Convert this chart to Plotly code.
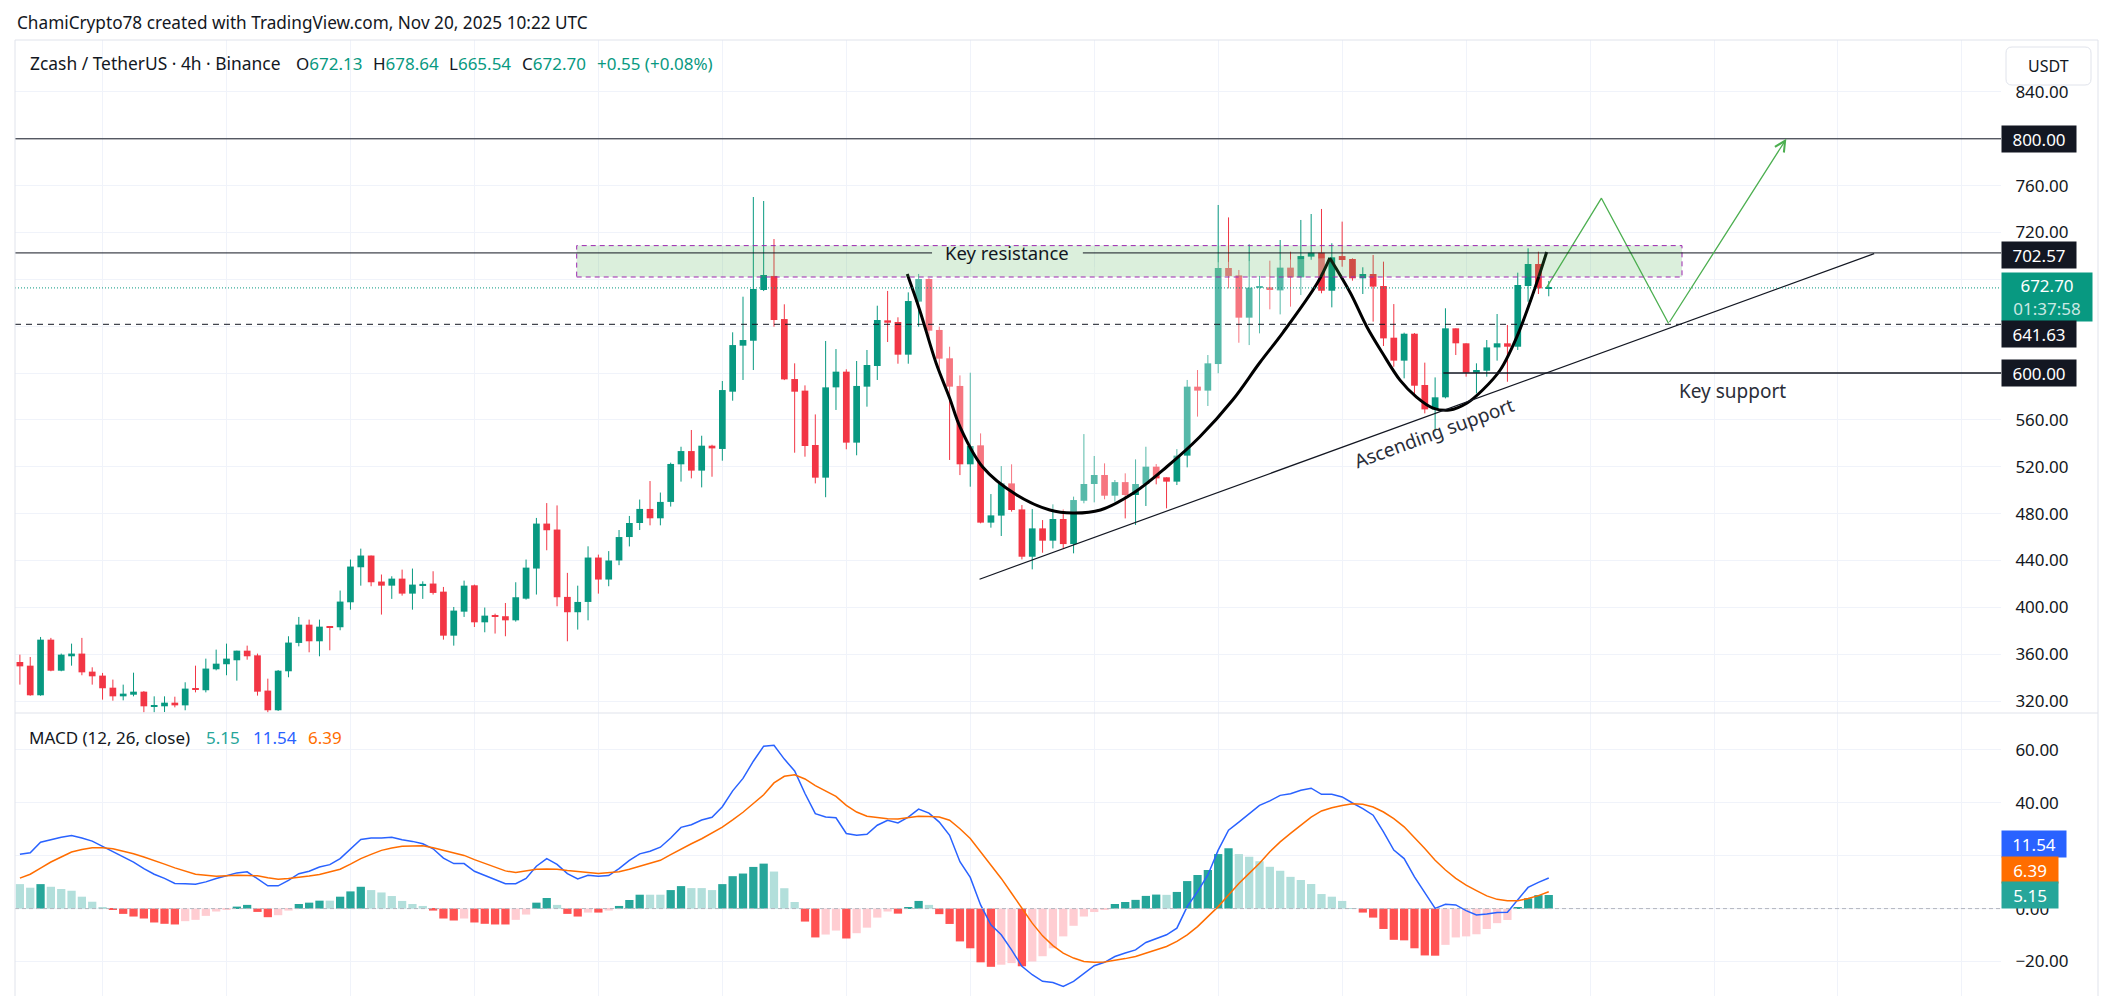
import plotly.graph_objects as go

# ---------------- data ----------------
OPEN = [353.3, 350.2, 324.9, 372.4, 345.9, 358.2, 360.5, 345.1, 341.7, 331.4,
        324.0, 325.4, 328.0, 315.5, 315.5, 318.6, 316.3, 330.6, 329.2, 347.1,
        351.4, 354.8, 363.0, 359.0, 328.9, 312.1, 345.4, 369.6, 385.2, 371.0,
        383.8, 383.0, 404.3, 434.2, 444.2, 422.0, 418.5, 424.5, 411.7, 418.5,
        420.3, 413.4, 375.8, 396.3, 418.8, 387.2, 392.9, 392.4, 388.9, 407.4,
        433.1, 471.5, 466.4, 408.9, 395.8, 404.6, 442.5, 423.7, 440.0, 460.0,
        472.0, 484.0, 476.0, 490.0, 522.1, 533.4, 516.7, 538.0, 535.2, 584.1,
        623.4, 627.6, 670.9, 682.9, 646.1, 594.9, 585.0, 538.6, 510.7, 587.8,
        601.2, 540.6, 588.4, 606.0, 645.0, 643.6, 615.7, 661.0, 680.3, 636.8,
        612.6, 589.0, 522.1, 538.3, 472.3, 478.3, 505.8, 483.6, 443.2, 467.4,
        456.9, 475.4, 454.0, 491.0, 505.3, 513.0, 495.3, 506.9, 495.9, 505.3,
        520.1, 511.0, 507.3, 529.5, 588.4, 585.0, 607.7, 689.7, 683.4, 647.3,
        673.2, 673.2, 670.6, 690.0, 681.7, 699.4, 702.8, 670.3, 699.9, 697.4,
        680.9, 684.6, 674.3, 630.2, 610.6, 633.6, 589.8, 569.0, 579.3, 638.2,
        625.4, 600.3, 602.0, 621.9, 625.4, 622.5, 674.3, 693.1, 672.13]
HIGH = [359.6, 357.6, 374.7, 373.9, 360.5, 369.0, 373.9, 348.8, 344.0, 338.3,
        334.0, 344.2, 328.5, 324.0, 324.0, 323.7, 336.0, 350.2, 356.2, 363.9,
        369.0, 363.0, 367.3, 360.5, 339.1, 346.5, 375.3, 391.8, 389.5, 389.5,
        384.0, 414.3, 440.8, 450.1, 444.2, 428.0, 426.5, 432.2, 433.1, 422.2,
        430.8, 417.4, 400.3, 422.8, 419.4, 399.8, 394.6, 403.7, 421.4, 440.8,
        476.3, 489.0, 487.0, 429.4, 418.5, 452.1, 445.0, 448.0, 466.0, 478.0,
        492.0, 507.8, 498.0, 523.5, 537.1, 551.4, 546.5, 538.8, 593.2, 634.8,
        665.2, 750.3, 746.9, 714.4, 658.7, 608.3, 589.5, 564.7, 627.4, 620.5,
        603.2, 610.3, 619.7, 657.5, 670.1, 647.6, 668.9, 684.6, 681.0, 639.6,
        622.5, 598.0, 600.3, 548.5, 496.7, 520.6, 522.1, 487.3, 483.9, 474.5,
        487.9, 483.6, 494.5, 547.9, 529.2, 522.9, 508.7, 514.4, 526.3, 537.1,
        522.3, 511.0, 535.1, 594.1, 602.6, 615.4, 743.5, 732.9, 688.0, 709.9,
        682.9, 695.9, 713.6, 703.6, 730.7, 735.8, 740.1, 710.8, 729.3, 697.9,
        690.3, 700.8, 695.1, 658.9, 634.5, 634.2, 608.9, 596.3, 655.3, 638.2,
        625.4, 608.3, 628.2, 650.4, 641.0, 685.7, 706.5, 703.6, 678.64]
LOW = [334.0, 324.5, 324.5, 345.4, 345.4, 350.2, 342.0, 334.0, 321.2, 320.3,
       320.6, 324.0, 310.4, 310.4, 310.6, 314.6, 312.1, 327.4, 327.4, 346.2,
       342.0, 337.4, 355.3, 324.6, 310.4, 311.5, 340.3, 366.7, 361.6, 358.2,
       363.3, 380.4, 398.0, 418.5, 418.0, 393.8, 407.2, 410.0, 398.0, 407.2,
       410.9, 372.4, 367.3, 391.8, 383.2, 378.7, 377.6, 375.3, 387.8, 406.6,
       410.9, 448.7, 400.9, 371.0, 381.0, 388.9, 411.7, 418.0, 436.0, 452.0,
       466.0, 470.0, 470.0, 486.0, 507.3, 510.1, 502.4, 511.5, 525.2, 576.4,
       594.1, 602.6, 670.0, 639.6, 594.0, 532.0, 528.6, 505.8, 494.0, 568.5,
       534.9, 529.8, 571.3, 594.1, 626.5, 608.0, 608.0, 639.6, 628.2, 602.6,
       525.8, 512.9, 503.0, 471.7, 468.0, 460.9, 481.7, 440.9, 432.4, 446.6,
       450.3, 450.3, 446.1, 488.8, 489.6, 492.2, 490.2, 475.9, 470.3, 486.5,
       505.0, 484.5, 504.4, 519.5, 562.8, 571.9, 599.8, 672.3, 625.9, 623.9,
       633.9, 654.4, 650.1, 656.7, 666.6, 696.5, 668.1, 656.1, 690.8, 678.9,
       667.5, 643.9, 623.1, 605.4, 595.5, 579.8, 565.6, 550.0, 578.4, 615.4,
       596.9, 582.7, 596.9, 610.6, 592.6, 619.7, 660.9, 667.5, 665.54]
CLOSE = [349.6, 324.9, 372.4, 345.9, 359.6, 360.5, 344.5, 341.1, 330.9, 324.0,
         326.3, 328.0, 315.5, 316.1, 318.6, 316.3, 330.6, 329.7, 347.7, 351.9,
         356.2, 363.0, 358.2, 328.0, 312.1, 345.9, 369.9, 385.2, 371.0, 383.5,
         383.0, 404.9, 434.8, 444.2, 421.4, 418.5, 424.5, 411.7, 419.4, 420.0,
         412.3, 375.8, 397.2, 418.5, 387.2, 392.9, 391.8, 388.9, 408.6, 433.9,
         471.5, 465.8, 408.6, 395.8, 404.6, 442.5, 423.7, 440.0, 460.0, 472.0,
         484.0, 476.0, 490.0, 522.4, 533.4, 516.7, 538.0, 535.7, 585.5, 623.9,
         628.2, 671.8, 683.7, 645.3, 594.6, 584.1, 537.7, 510.7, 587.8, 601.2,
         540.6, 589.0, 606.9, 645.3, 643.0, 615.7, 661.5, 680.3, 636.2, 612.3,
         588.4, 522.1, 537.7, 472.3, 478.5, 505.8, 483.1, 443.2, 467.4, 456.9,
         475.4, 454.0, 491.6, 505.3, 513.0, 495.3, 506.9, 495.9, 505.3, 520.1,
         510.1, 507.3, 529.5, 588.4, 585.0, 608.3, 689.7, 682.9, 647.3, 672.9,
         674.0, 670.9, 690.0, 681.7, 699.9, 702.8, 670.3, 698.8, 696.5, 680.9,
         684.6, 673.8, 629.6, 610.6, 633.6, 589.2, 569.0, 579.3, 638.2, 625.4,
         600.3, 602.6, 621.9, 625.4, 622.5, 675.2, 693.1, 672.3, 672.70]

MACD = [20.5, 21.1, 25.1, 26.0, 27.0, 27.6, 26.7, 25.5, 23.5, 21.4,
        19.5, 17.6, 15.1, 13.0, 11.4, 9.5, 9.4, 9.2, 10.1, 11.4,
        12.4, 13.5, 13.9, 11.4, 8.6, 8.6, 10.7, 13.2, 14.1, 15.7,
        16.6, 18.9, 22.6, 26.1, 26.7, 26.7, 27.0, 26.0, 25.4, 24.5,
        22.6, 19.1, 17.0, 17.0, 14.1, 12.6, 11.0, 9.4, 9.4, 11.4,
        16.0, 18.9, 16.7, 13.2, 11.2, 12.6, 12.2, 12.5, 15.1, 18.2,
        20.7, 21.7, 23.2, 26.7, 30.7, 31.7, 33.5, 34.5, 38.5, 44.5,
        49.2, 55.7, 61.4, 61.7, 56.5, 52.0, 43.5, 35.9, 34.6, 34.3,
        28.4, 27.7, 28.1, 31.5, 33.4, 32.4, 34.6, 37.6, 36.1, 32.7,
        27.7, 17.7, 11.8, 1.4, -6.1, -9.9, -15.6, -21.8, -25.0, -27.5,
        -27.9, -29.4, -27.5, -24.6, -21.6, -20.3, -18.1, -16.8, -15.6, -12.8,
        -11.2, -9.9, -7.4, 0.75, 6.4, 12.7, 22.1, 29.6, 32.7, 35.9,
        39.0, 40.7, 42.8, 43.4, 44.7, 45.5, 43.2, 43.2, 42.2, 39.9,
        37.8, 35.3, 29.0, 22.1, 18.9, 12.0, 5.8, 0.1, 1.6, 1.4,
        -0.75, -2.4, -2.0, -1.5, -1.4, 3.3, 8.0, 9.9, 11.54]
SIGNAL = [11.5, 13.0, 15.3, 17.6, 19.5, 21.4, 22.3, 23.0, 23.0, 22.6,
          21.7, 20.75, 19.5, 18.25, 16.8, 15.4, 14.1, 13.0, 12.6, 12.25,
          12.4, 12.6, 12.5, 12.4, 11.7, 11.1, 11.4, 11.75, 12.3, 12.9,
          13.8, 14.9, 16.8, 18.9, 20.5, 22.0, 22.9, 23.6, 23.7, 23.75,
          23.0, 22.0, 21.0, 20.1, 18.5, 17.0, 15.6, 14.25, 13.6, 14.2,
          14.9, 15.0, 14.9, 14.4, 13.9, 13.6, 13.25, 13.5, 13.9, 14.9,
          16.1, 17.1, 18.25, 20.4, 22.6, 24.5, 26.4, 28.5, 30.75, 33.5,
          36.4, 39.7, 43.0, 47.5, 50.0, 50.6, 49.0, 46.5, 44.3, 42.4,
          39.0, 36.5, 34.9, 34.4, 34.0, 33.9, 34.4, 34.9, 34.8, 34.6,
          33.4, 30.2, 26.5, 21.5, 16.4, 11.4, 5.8, 0.1, -5.5, -10.3,
          -14.0, -16.8, -18.7, -20.0, -20.3, -20.2, -19.6, -18.9, -18.1, -16.8,
          -15.6, -14.3, -12.4, -9.9, -6.8, -3.0, 0.75, 5.1, 9.5, 13.3,
          17.1, 21.5, 25.2, 28.4, 31.5, 34.6, 36.9, 38.1, 39.0, 39.6,
          39.4, 38.4, 36.5, 34.0, 30.9, 26.9, 22.7, 18.3, 14.6, 11.4,
          8.9, 6.8, 4.8, 3.5, 3.0, 3.0, 3.8, 4.9, 6.39]
HIST = [9.25, 7.9, 9.25, 8.25, 7.4, 6.75, 4.5, 2.6, 0.6, -0.3,
        -2.0, -3.0, -3.75, -5.25, -5.75, -6.0, -4.75, -4.25, -2.75, -1.1,
        -0.5, 0.75, 1.4, -1.25, -3.25, -2.5, -0.75, 1.75, 2.25, 3.0,
        3.0, 4.5, 6.5, 8.25, 7.0, 6.1, 4.75, 2.9, 1.75, 1.0,
        -0.75, -3.75, -4.5, -3.75, -5.25, -5.75, -6.0, -6.0, -4.25, -2.25,
        2.25, 4.0, 1.4, -2.0, -3.0, -1.5, -1.5, -0.75, 1.0, 3.25,
        5.25, 5.25, 5.25, 7.0, 8.5, 7.75, 7.75, 7.0, 9.25, 12.25,
        13.25, 15.75, 17.0, 14.0, 7.7, 2.5, -4.9, -10.9, -9.8, -8.3,
        -11.3, -9.3, -7.2, -3.4, -1.1, -1.9, 0.6, 2.9, 1.4, -2.1,
        -5.8, -12.4, -15.0, -20.3, -22.0, -21.2, -20.6, -21.8, -20.0, -18.0,
        -15.0, -10.5, -6.5, -3.0, -1.3, -0.3, 1.75, 2.5, 3.3, 4.8,
        5.3, 5.2, 6.3, 10.4, 12.7, 14.6, 20.6, 22.8, 20.6, 19.6,
        17.9, 15.8, 14.3, 12.0, 10.8, 9.3, 5.5, 4.5, 2.9, 0.2,
        -1.5, -3.4, -7.7, -11.8, -12.0, -15.0, -17.7, -17.8, -13.7, -10.9,
        -10.5, -9.7, -7.7, -5.5, -4.3, 0.3, 3.9, 5.1, 5.15]

PRICE_TICKS = [320, 360, 400, 440, 480, 520, 560, 600, 640, 680, 720, 760, 800, 840]
# tick labels that sit fully under a price-scale badge are left blank
PRICE_TICK_TEXT = ["320.00", "360.00", "400.00", "440.00", "480.00", "520.00", "560.00",
                   "", "", "", "720.00", "760.00", "", "840.00"]
MACD_TICKS = [-20, 0, 20, 40, 60]
MACD_TICK_TEXT = ["\u221220.00", "0.00", "", "40.00", "60.00"]

# levels & drawings (chart units: bar index, price)
LEVEL_TARGET = 800.00
LEVEL_RES = 702.57
LEVEL_MID = 641.63
LEVEL_LAST = 672.70
LEVEL_SUP = 600.00
ZONE = dict(x0=53.9, x1=160.9, y0=682.0, y1=708.8)
RES_GAP = (88.3, 102.9)
SUP_START = 137.8
ARC1_X = [85.9, 87.1, 88.7, 90.0, 91.0, 93.2, 96.5, 99.7, 101.9, 104.6, 107.8, 111.0, 114.2, 117.4, 120.0, 122.3, 125.6, 126.8]
ARC1_Y = [684.6, 653.9, 608.3, 578.7, 554.2, 519.8, 495.9, 483.1, 480.5, 483.1, 497.6, 519.8, 545.4, 577.0, 608.6, 635.0, 676.9, 698.2]
ARC2_X = [126.8, 128.8, 130.4, 131.9, 133.6, 135.2, 136.8, 138.4, 140.1, 141.6, 143.3, 144.9, 146.5, 147.8]
ARC2_Y = [698.2, 668.3, 639.3, 617.1, 594.0, 579.5, 570.1, 568.4, 574.4, 585.5, 602.6, 630.7, 668.3, 703.3]
ASC_X = [92.9, 179.5]
ASC_Y = [424.0, 702.0]
PROJ_X = [147.8, 153.1, 159.6]
PROJ_Y = [673.2, 749.3, 642.3]
ARROW_END = (171.0, 800.0)

# ---------------- layout constants ----------------
W, H = 2114, 996
PANE_L, PANE_R, FRAME_R = 15, 2001, 2098
TOP_Y, SEP_Y = 40, 713
X_RANGE = [-0.474, 191.78]
PRICE_RANGE = [309.78, 884.35]
MACD_RANGE = [-33.03, 73.92]
FONT = "Noto Sans, Open Sans, sans-serif"
TXT = "#131722"
GRID = "#F0F3FA"
UP, DOWN = "#089981", "#F23645"
HDR = 17.3


def px(x):
    return x / W


def py(y):
    return 1 - y / H


n = len(CLOSE)
idx = list(range(n))
is_up = [c >= o for o, c in zip(OPEN, CLOSE)]
body_base = [min(o, c) for o, c in zip(OPEN, CLOSE)]
body_h = [max(abs(c - o), 0.9) for o, c in zip(OPEN, CLOSE)]
body_col = [UP if u else DOWN for u in is_up]

fig = go.Figure()

for flag, col in ((True, UP), (False, DOWN)):
    xs, ys = [], []
    for i in idx:
        if is_up[i] == flag:
            xs += [i, i, None]
            ys += [LOW[i], HIGH[i], None]
    fig.add_trace(go.Scatter(x=xs, y=ys, mode="lines", line=dict(color=col, width=1),
                             hoverinfo="skip", xaxis="x", yaxis="y"))

fig.add_trace(go.Bar(x=idx, y=body_h, base=body_base, width=0.65,
                     marker=dict(color=body_col, line=dict(width=0)),
                     hoverinfo="skip", xaxis="x", yaxis="y"))

# arc 1 translucent fill
fig.add_trace(go.Scatter(x=ARC1_X, y=ARC1_Y, mode="lines", fill="toself",
                         fillcolor="rgba(255,255,255,0.32)", line=dict(width=0, shape="spline"),
                         hoverinfo="skip", xaxis="x", yaxis="y"))
for ax_, ay_ in ((ARC1_X, ARC1_Y), (ARC2_X, ARC2_Y)):
    fig.add_trace(go.Scatter(x=ax_, y=ay_, mode="lines",
                             line=dict(color="#000000", width=3, shape="spline"),
                             hoverinfo="skip", xaxis="x", yaxis="y"))
fig.add_trace(go.Scatter(x=ASC_X, y=ASC_Y, mode="lines", line=dict(color=TXT, width=1.2),
                         hoverinfo="skip", xaxis="x", yaxis="y"))
fig.add_trace(go.Scatter(x=PROJ_X, y=PROJ_Y, mode="lines", line=dict(color="#4CAF50", width=1.3),
                         hoverinfo="skip", xaxis="x", yaxis="y"))

# MACD pane
hist_col = []
for k, v in enumerate(HIST):
    prev = HIST[k - 1] if k > 0 else v
    if v >= 0:
        hist_col.append("#26A69A" if v > prev else "#B2DFDB")
    else:
        hist_col.append("#FFCDD2" if v > prev else "#FF5252")
fig.add_trace(go.Bar(x=idx, y=HIST, width=0.8, marker=dict(color=hist_col, line=dict(width=0)),
                     hoverinfo="skip", xaxis="x2", yaxis="y2"))
fig.add_trace(go.Scatter(x=idx, y=MACD, mode="lines", line=dict(color="#2962FF", width=1.5),
                         hoverinfo="skip", xaxis="x2", yaxis="y2"))
fig.add_trace(go.Scatter(x=idx, y=SIGNAL, mode="lines", line=dict(color="#FF6D00", width=1.5),
                         hoverinfo="skip", xaxis="x2", yaxis="y2"))

common_x = dict(range=X_RANGE, showticklabels=False, showgrid=True, gridcolor=GRID, gridwidth=1,
                tick0=8, dtick=12, zeroline=False, showline=False, fixedrange=True)
fig.update_layout(
    width=W, height=H, margin=dict(l=0, r=0, t=0, b=0),
    paper_bgcolor="white", plot_bgcolor="white", showlegend=False,
    font=dict(family=FONT, color=TXT, size=17),
    xaxis=dict(domain=[px(PANE_L), px(PANE_R)], anchor="y", **common_x),
    xaxis2=dict(domain=[px(PANE_L), px(PANE_R)], anchor="y2", **common_x),
    yaxis=dict(domain=[py(SEP_Y), py(TOP_Y)], range=PRICE_RANGE, side="right", anchor="x",
               tickmode="array", tickvals=PRICE_TICKS, ticktext=PRICE_TICK_TEXT,
               tickfont=dict(size=17, color=TXT, family=FONT), showgrid=True, gridcolor=GRID,
               zeroline=False, showline=False, ticks="outside", ticklen=10,
               tickcolor="rgba(0,0,0,0)", automargin=False, fixedrange=True),
    yaxis2=dict(domain=[0, py(SEP_Y)], range=MACD_RANGE, side="right", anchor="x2",
                tickmode="array", tickvals=MACD_TICKS, ticktext=MACD_TICK_TEXT,
                tickfont=dict(size=17, color=TXT, family=FONT), showgrid=True, gridcolor=GRID,
                zeroline=False, showline=False, ticks="outside", ticklen=10,
                tickcolor="rgba(0,0,0,0)", automargin=False, fixedrange=True),
)

shapes = []
# key resistance zone
shapes.append(dict(type="rect", xref="x", yref="y", layer="above", **ZONE,
                   fillcolor="rgba(76,175,80,0.2)",
                   line=dict(color="#9C27B0", width=1, dash="5px,4px")))
# horizontal levels
shapes.append(dict(type="line", xref="x", yref="y", layer="above", x0=X_RANGE[0], x1=X_RANGE[1],
                   y0=LEVEL_TARGET, y1=LEVEL_TARGET, line=dict(color=TXT, width=1)))
shapes.append(dict(type="line", xref="x", yref="y", layer="above", x0=X_RANGE[0], x1=RES_GAP[0],
                   y0=LEVEL_RES, y1=LEVEL_RES, line=dict(color=TXT, width=1)))
shapes.append(dict(type="line", xref="x", yref="y", layer="above", x0=RES_GAP[1], x1=X_RANGE[1],
                   y0=LEVEL_RES, y1=LEVEL_RES, line=dict(color=TXT, width=1)))
shapes.append(dict(type="line", xref="x", yref="y", layer="above", x0=X_RANGE[0], x1=X_RANGE[1],
                   y0=LEVEL_MID, y1=LEVEL_MID, line=dict(color=TXT, width=1, dash="6px,5px")))
shapes.append(dict(type="line", xref="x", yref="y", layer="above", x0=X_RANGE[0], x1=X_RANGE[1],
                   y0=LEVEL_LAST, y1=LEVEL_LAST, line=dict(color=UP, width=1, dash="1px,2px")))
shapes.append(dict(type="line", xref="x", yref="y", layer="above", x0=SUP_START, x1=X_RANGE[1],
                   y0=LEVEL_SUP, y1=LEVEL_SUP, line=dict(color=TXT, width=1.5)))
# MACD zero line
shapes.append(dict(type="line", xref="x2", yref="y2", layer="above", x0=X_RANGE[0], x1=X_RANGE[1],
                   y0=0, y1=0, line=dict(color="#B2B5BE", width=1, dash="4px,3px")))
# frame
FR = "#E0E3EB"
for (x0, y0, x1, y1) in ((PANE_L, TOP_Y, FRAME_R, TOP_Y), (PANE_L, SEP_Y, FRAME_R, SEP_Y),
                         (PANE_L, TOP_Y, PANE_L, H), (FRAME_R, TOP_Y, FRAME_R, H)):
    shapes.append(dict(type="line", xref="paper", yref="paper", layer="above",
                       x0=px(x0), x1=px(x1), y0=py(y0), y1=py(y1), line=dict(color=FR, width=1)))
# USDT box (rounded)
bx0, bx1, by0, by1, r = 2006, 2091, 47, 85, 6
path = (f"M{px(bx0 + r)},{py(by0)} L{px(bx1 - r)},{py(by0)} Q{px(bx1)},{py(by0)} {px(bx1)},{py(by0 + r)} "
        f"L{px(bx1)},{py(by1 - r)} Q{px(bx1)},{py(by1)} {px(bx1 - r)},{py(by1)} "
        f"L{px(bx0 + r)},{py(by1)} Q{px(bx0)},{py(by1)} {px(bx0)},{py(by1 - r)} "
        f"L{px(bx0)},{py(by0 + r)} Q{px(bx0)},{py(by0)} {px(bx0 + r)},{py(by0)} Z")
shapes.append(dict(type="path", xref="paper", yref="paper", layer="above", path=path,
                   fillcolor="white", line=dict(color="#E0E3EB", width=1)))
fig.update_layout(shapes=shapes)

ann = []


def label(text, x, y, size=HDR, color=TXT, xanchor="left", **kw):
    ann.append(dict(text=text, x=px(x), y=py(y), xref="paper", yref="paper", showarrow=False,
                    xanchor=xanchor, yanchor="middle", font=dict(size=size, color=color, family=FONT), **kw))


label("ChamiCrypto78 created with TradingView.com, Nov 20, 2025 10:22 UTC", 15, 23, size=17.2)
label("Zcash / TetherUS · 4h · Binance", 28, 63, size=17.4)
for lx, key, val in ((294, "O", "672.13"), (371, "H", "678.64"), (447, "L", "665.54"), (520, "C", "672.70")):
    label(f"{key}<span style='color:{UP}'>{val}</span>", lx, 63, size=17.0)
label("+0.55 (+0.08%)", 595, 63, size=17.0, color=UP)
label("MACD (12, 26, close)", 27, 737, size=17.0)
label("5.15", 204, 737, size=17.0, color="#26A69A")
label("11.54", 251, 737, size=17.0, color="#2962FF")
label("6.39", 306, 737, size=17.0, color="#FF6D00")
label("USDT", 2048.5, 66, size=16, xanchor="center")


def axis_box(text, yval, yref, bg, w, h=26, yshift=0, fg="white"):
    ann.append(dict(text=text, x=px(PANE_R), y=yval, xref="paper", yref=yref, showarrow=False,
                    xanchor="left", yanchor="middle", yshift=yshift, width=w, height=h,
                    bgcolor=bg, borderpad=0, align="center", valign="middle",
                    font=dict(size=17, color=fg, family=FONT)))


axis_box("800.00", LEVEL_TARGET, "y", TXT, 74)
axis_box("702.57", LEVEL_RES, "y", TXT, 74, yshift=-1.8)
axis_box(f"672.70<br><span style='color:rgba(255,255,255,0.8)'>01:37:58</span>", LEVEL_LAST, "y", UP, 90, h=48, yshift=-9)
axis_box("641.63", LEVEL_MID, "y", TXT, 74, yshift=-9.7)
axis_box("600.00", LEVEL_SUP, "y", TXT, 74)
axis_box("11.54", MACD[-1], "y2", "#2962FF", 64, yshift=34.2)
axis_box("6.39", SIGNAL[-1], "y2", "#FF6D00", 56, yshift=21.5)
axis_box("5.15", HIST[-1], "y2", "#26A69A", 56)

# drawing texts
ann.append(dict(text="Key resistance", x=95.6, y=LEVEL_RES, xref="x", yref="y", showarrow=False,
                font=dict(size=18.5, color=TXT, family=FONT)))
ann.append(dict(text="Ascending support", x=136.9, y=549.0, xref="x", yref="y", showarrow=False,
                textangle=-20.1, font=dict(size=19, color="#2A2E39", family=FONT)))
ann.append(dict(text="Key support", x=165.8, y=584.8, xref="x", yref="y", showarrow=False,
                font=dict(size=19, color="#2A2E39", family=FONT)))
# projection arrow
ann.append(dict(text="", x=ARROW_END[0], y=ARROW_END[1], xref="x", yref="y",
                ax=PROJ_X[-1], ay=PROJ_Y[-1], axref="x", ayref="y", showarrow=True,
                arrowhead=5, arrowsize=1.6, arrowwidth=1.3, arrowcolor="#4CAF50", standoff=0))
fig.update_layout(annotations=ann)

fig.write_html("out.html")
